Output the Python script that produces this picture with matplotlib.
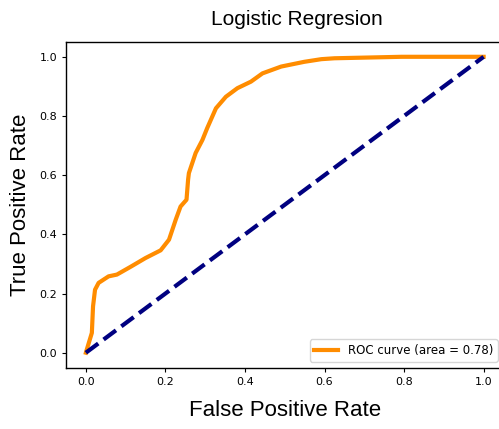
import matplotlib
matplotlib.use('Agg')
import matplotlib.pyplot as plt

# ROC points
fpr = [0.0, 0.001, 0.015, 0.018, 0.023, 0.032, 0.057, 0.078, 0.112, 0.150,
       0.188, 0.209, 0.226, 0.238, 0.253, 0.257, 0.259, 0.276, 0.293, 0.305,
       0.327, 0.352, 0.381, 0.415, 0.444, 0.491, 0.549, 0.592, 0.625, 0.794, 1.0]
tpr = [0.0, 0.005, 0.067, 0.157, 0.213, 0.236, 0.258, 0.264, 0.290, 0.320,
       0.346, 0.382, 0.450, 0.494, 0.517, 0.585, 0.607, 0.675, 0.719, 0.759,
       0.826, 0.865, 0.894, 0.916, 0.944, 0.967, 0.983, 0.992, 0.995, 1.0, 1.0]
roc_auc = 0.78
ticks = [0.0, 0.2, 0.4, 0.6, 0.8, 1.0]

fig = plt.figure(figsize=(4.99, 4.29), dpi=100)
# right edge of the axes sits just past the image border (cropped in the reference)
ax = fig.add_axes([66 / 499, 61.5 / 429, 437.5 / 499, 325.5 / 429])

ax.plot(fpr, tpr, color='darkorange', lw=3,
        label='ROC curve (area = %0.2f)' % roc_auc)
ax.plot([0, 1], [0, 1], color='navy', lw=3, linestyle='--')

ax.set_xlim(-0.05, 1.05)
ax.set_ylim(-0.05, 1.05)
ax.set_xticks(ticks)
ax.set_yticks(ticks)
ax.tick_params(labelsize=8, length=3)
for s in ax.spines.values():
    s.set_linewidth(1.0)
ax.spines['right'].set_visible(False)

lab = dict(family=['Liberation Sans', 'DejaVu Sans'], fontsize=16)
ax.set_xlabel('False Positive Rate', labelpad=10, **lab)
ax.set_ylabel('True Positive Rate', labelpad=6, **lab)
ax.set_title('Logistic Regresion', x=0.528, pad=12,
             family=['Liberation Sans', 'DejaVu Sans'], fontsize=15)
ax.legend(loc='lower right', fontsize=8.5)

fig.savefig('out.png', dpi=100)
